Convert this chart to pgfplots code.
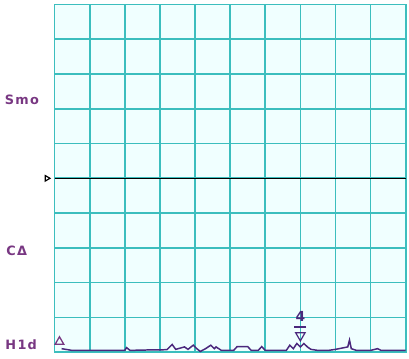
\documentclass[border=0pt]{standalone}
\usepackage{pgfplots}
\pgfplotsset{compat=1.18}
\usepackage{fontspec}
\setmainfont{DejaVu Sans}
\newfontfamily\labf[LetterSpace=10]{DejaVu Sans}
\definecolor{gridc}{RGB}{60,190,190}
\definecolor{bgc}{RGB}{240,255,255}
\definecolor{lab}{RGB}{120,55,130}
\definecolor{trc}{RGB}{75,40,125}
\begin{document}
\begin{tikzpicture}
\begin{axis}[
  x=35.4bp, y=35.05bp,
  xmin=0, xmax=10, ymin=0, ymax=10,
  xtick={0,1,...,10}, ytick={0,1,...,10},
  xticklabels={}, yticklabels={},
  major tick length=0pt,
  grid=major,
  grid style={gridc, line width=1.7bp},
  axis line style={gridc, line width=1.7bp},
  axis background/.style={fill=bgc},
  clip=false,
]
\addplot[black, line width=1.5bp] coordinates {(0,5) (10,5)};
\addplot[black, only marks, mark=triangle, mark size=3.2pt, mark options={rotate=-90, line width=1.2bp}] coordinates {(-0.22,5)};
\addplot[trc, line width=1.5bp] coordinates {
(0.2,0.10) (0.5,0.05) (1,0.05) (1.5,0.05) (2.0,0.05) (2.05,0.13) (2.15,0.05) (2.5,0.06)
(3.2,0.07) (3.35,0.22) (3.45,0.08) (3.7,0.15) (3.8,0.08) (3.95,0.2) (4.05,0.1) (4.15,0.02)
(4.3,0.1) (4.45,0.2) (4.55,0.1) (4.6,0.15) (4.75,0.05) (5.1,0.05) (5.2,0.16) (5.5,0.16)
(5.6,0.05) (5.8,0.05) (5.9,0.16) (6.0,0.05) (6.6,0.05) (6.7,0.2) (6.8,0.1) (6.9,0.25)
(7.0,0.15) (7.1,0.25) (7.2,0.15) (7.3,0.08) (7.5,0.05) (7.8,0.05) (8.0,0.08) (8.35,0.15)
(8.4,0.35) (8.45,0.1) (8.6,0.05) (9.0,0.05) (9.2,0.1) (9.3,0.05) (10,0.05)};
\addplot[lab, only marks, mark=triangle, mark size=5pt, mark options={line width=1.3bp}] coordinates {(0.14,0.3)};
\addplot[trc, only marks, mark=triangle, mark size=5.5pt, mark options={rotate=180, line width=1.2bp}] coordinates {(7.0,0.48)};
\addplot[trc, only marks, mark=-, mark size=6pt, mark options={line width=1.3bp}] coordinates {(7.0,0.72)};
\node[trc, font=\bfseries\fontsize{14}{16}\selectfont] at (axis cs:7.0,1.02) {4};
\node[lab, font=\labf\bfseries\fontsize{13}{15}\selectfont] at (axis cs:-0.93,7.27) {Smo};
\node[lab, font=\labf\bfseries\fontsize{13}{15}\selectfont] at (axis cs:-1.08,2.9) {CΔ};
\node[lab, font=\labf\bfseries\fontsize{13}{15}\selectfont] at (axis cs:-0.95,0.2) {H1d};
\end{axis}
\useasboundingbox (-55bp,-5bp) rectangle (354bp,355bp);
\end{tikzpicture}
\end{document}
